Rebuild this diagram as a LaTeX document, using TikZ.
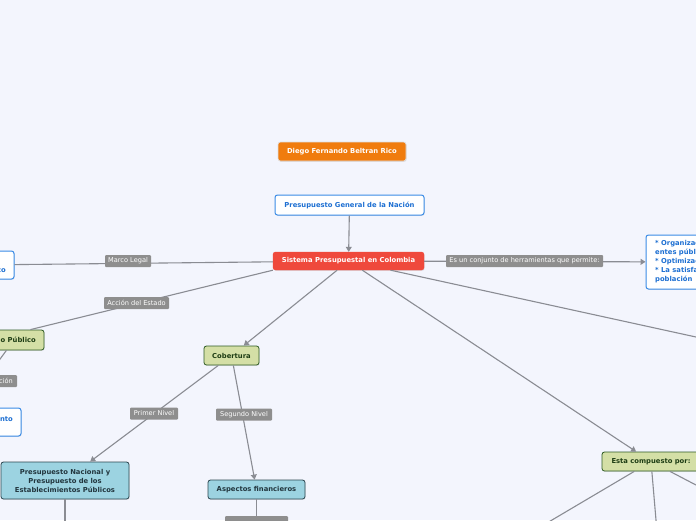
\documentclass[tikz,border=0pt]{standalone}
\usepackage{fontspec}
\setmainfont{DejaVu Sans}
\usetikzlibrary{arrows.meta,shadows}
\definecolor{bgc}{HTML}{F3F5FD}
\definecolor{orangec}{HTML}{F07C0E}
\definecolor{redc}{HTML}{EF493C}
\definecolor{bluec}{HTML}{3A8BE6}
\definecolor{bluetxt}{HTML}{1D6FD2}
\definecolor{greenfill}{HTML}{D4DFA6}
\definecolor{greenline}{HTML}{2E5B24}
\definecolor{greentxt}{HTML}{1E3D14}
\definecolor{cyanfill}{HTML}{9CD3E1}
\definecolor{cyanline}{HTML}{2B4650}
\definecolor{cyantxt}{HTML}{22363E}
\definecolor{lblc}{HTML}{8E8E8E}
\definecolor{connc}{HTML}{8A8C93}
\tikzset{
  base/.style={rounded corners=2.5pt, font=\fontsize{6.8}{9}\selectfont\bfseries, inner sep=0pt, align=center,
    drop shadow={opacity=0.18, shadow xshift=0.6pt, shadow yshift=-0.9pt}},
  orangebox/.style={base, fill=orangec, draw=white!75!gray, line width=0.6pt, text=white},
  redbox/.style={base, fill=redc, draw=redc, text=white},
  bluebox/.style={base, fill=white, draw=bluec, line width=1pt, text=bluetxt},
  greenbox/.style={base, fill=greenfill, draw=greenline, line width=0.8pt, text=greentxt},
  cyanbox/.style={base, fill=cyanfill, draw=cyanline, line width=0.8pt, text=cyantxt},
  lbl/.style={fill=lblc, text=white, rounded corners=1pt, inner sep=0pt, font=\fontsize{6.6}{7.5}\selectfont, minimum height=12pt},
  bluetext/.style={font=\fontsize{6.8}{9}\selectfont\bfseries, text=bluetxt, inner sep=0pt},
  greentext/.style={font=\fontsize{6.8}{8}\selectfont\bfseries, text=greentxt, inner sep=0pt},
  lbltext/.style={font=\fontsize{6.6}{7.5}\selectfont, text=white, inner sep=0pt},
  conn/.style={draw=connc, line width=1.1pt},
  arr/.style={conn, -{Triangle[length=5pt,width=6pt]}},
}
\begin{document}
\begin{tikzpicture}[x=1pt,y=-1pt]
\useasboundingbox (0,0) rectangle (696,520);
\clip (0,0) rectangle (696,520);
\fill[bgc] (0,0) rectangle (696,520);

% nodes
\node[orangebox, minimum width=128pt, minimum height=19pt] (diego) at (342,151.5) {Diego Fernando Beltran Rico};
\node[bluebox, minimum width=149pt, minimum height=20pt] (pgn) at (349.5,205) {Presupuesto General de la Nación};
\node[redbox, minimum width=151pt, minimum height=18pt] (sis) at (348.5,261) {Sistema Presupuestal en Colombia};

\node[bluebox, minimum width=74pt, minimum height=28pt] (lft) at (-23,265) {};
\node[bluetext, anchor=base east] (lfttxt) at (6,272.5) {co};

\node[greenbox, minimum width=104pt, minimum height=20pt] (pub) at (-8,340) {};
\node[greentext, anchor=east] (pubtxt) at (36,340) {o Público};

\node[lbl, minimum width=57pt] (cion) at (-11.5,381) {};
\node[lbltext, anchor=east] (ciontxt) at (13,381) {ción};

\node[bluebox, minimum width=81pt, minimum height=28pt] (nto) at (-19.5,422) {};
\node[bluetext, anchor=base east] (ntotxt) at (13,421.5) {nto};

\node[greenbox, minimum width=55pt, minimum height=19pt] (cob) at (231.5,355.5) {Cobertura};
\node[cyanbox, minimum width=128pt, minimum height=37pt] (pnac) at (65,480.5) {Presupuesto Nacional y\\Presupuesto de los\\Establecimientos Públicos};
\node[cyanbox, minimum width=97pt, minimum height=19pt] (asp) at (256.5,489.5) {Aspectos financieros};
\node[lbl, minimum width=63pt, minimum height=14pt] (aspl) at (256.5,523) {};

\node[bluebox, minimum width=114pt, minimum height=54pt] (rgt) at (703,262) {};
\node[bluetext, anchor=north west, align=left, font=\fontsize{6.8}{9}\selectfont\bfseries] (rgttxt) at (655,239.5)
  {* Organización\\entes públicos\\* Optimización\\* La satisfacción\\población};

\node[greenbox, minimum width=98pt, minimum height=19pt] (esta) at (651,461.5) {Esta compuesto por:};

% off-picture ends
\coordinate (offr) at (760,351);
\coordinate (offp) at (65,560);
\coordinate (e1) at (453,578.5);
\coordinate (e2) at (661,578.5);
\coordinate (e3) at (741,508.5);

% connectors
\draw[arr] (pgn) -- (sis);
\draw[conn] (sis) -- (lft);
\draw[conn] (sis.south west) -- ([xshift=-14pt]pub.north east);
\draw[conn] ([xshift=-38pt]pub.south east) -- (cion.north);
\draw[arr] (sis) -- (cob);
\draw[arr] (sis) -- (rgt);
\draw[conn] (sis) -- (offr);
\draw[arr] (sis) -- (esta);
\draw[arr] (cob) -- (pnac);
\draw[arr] (cob) -- (asp);
\draw[conn] (pnac) -- (offp);
\draw[conn] (asp) -- (aspl);
\draw[conn] (esta) -- (e1);
\draw[conn] (esta) -- (e2);
\draw[conn] (esta) -- (e3);

% connector labels
\node[lbl, minimum width=46pt] (lmarco) at (128,261) {Marco Legal};
\node[lbl, minimum width=65pt] (laccion) at (136.5,303) {Acción del Estado};
\node[lbl, minimum width=48pt] (lprimer) at (154,413.5) {Primer Nivel};
\node[lbl, minimum width=56pt] (lsegundo) at (244,414.5) {Segundo Nivel};
\node[lbl, minimum width=157pt] (les) at (524.5,261) {Es un conjunto de herramientas que permite:};
\end{tikzpicture}
\end{document}
